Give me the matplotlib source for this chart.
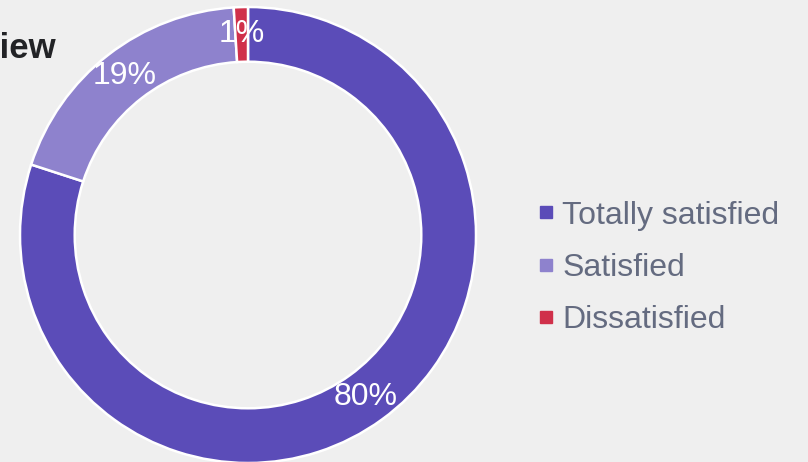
import matplotlib
matplotlib.use('Agg')
import matplotlib.pyplot as plt
from matplotlib.lines import Line2D

labels = ['Totally satisfied', 'Satisfied', 'Dissatisfied']
shares = [80, 19, 1]
colors = ['#5b4cb8', '#8e82cd', '#d0304a']
title = 'Overview'

plt.rcParams['font.family'] = ['Liberation Sans', 'DejaVu Sans']
bg = '#efefef'

W, H = 808, 462
fig = plt.figure(figsize=(W / 100, H / 100), dpi=100, facecolor=bg)

# donut: centre (248, 235) px, outer radius 228 px
cx, cy, r = 248, 235, 228
ax = fig.add_axes([(cx - r) / W, (H - cy - r) / H, 2 * r / W, 2 * r / H])
ax.set_facecolor(bg)

wedges, texts, autotexts = ax.pie(
    shares, colors=colors, startangle=90, counterclock=False, radius=1,
    autopct=lambda p: f'{p:.0f}%', pctdistance=0.88,
    wedgeprops=dict(width=0.24, edgecolor='white', linewidth=1.8),
    textprops=dict(color='white', fontsize=23))
ax.set_xlim(-1, 1)
ax.set_ylim(-1, 1)
ax.set_aspect('equal')
ax.axis('off')

# title is clipped by the left edge, as in the original
fig.text(56 / W, (H - 58) / H, title, ha='right', va='baseline',
         fontsize=25, fontweight='bold', color='#222326')

handles = [Line2D([], [], marker='s', linestyle='', markersize=8,
                  markerfacecolor=c, markeredgecolor=c) for c in colors]
leg = fig.legend(handles, labels, loc='center left',
                 bbox_to_anchor=(524 / W, (H - 268) / H),
                 frameon=False, fontsize=23, labelspacing=0.7,
                 handlelength=0.6, handletextpad=0.2, borderaxespad=0)
for t in leg.get_texts():
    t.set_color('#646b80')

fig.savefig('out.png', dpi=100, facecolor=bg)
